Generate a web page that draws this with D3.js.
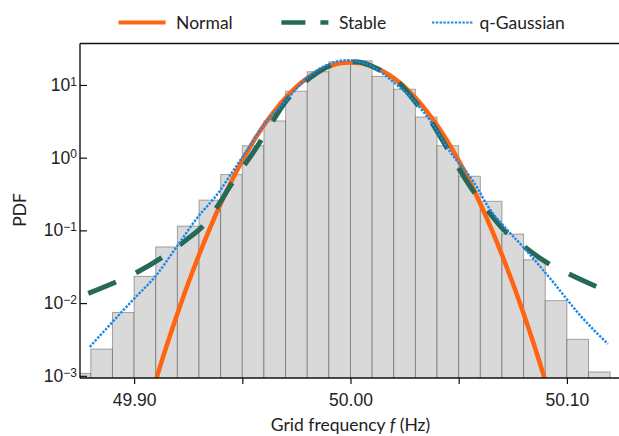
<!DOCTYPE html>
<html>
<head>
<meta charset="utf-8">
<script src="https://cdn.jsdelivr.net/npm/d3@7"></script>
<style>
  body { margin: 0; background: #fff; }
  svg { font-family: Lato, "Open Sans", sans-serif; }
</style>
</head>
<body>
<svg id="chart"></svg>
<script>
// histogram: left bin edges (Hz) and density
const binStarts = [49.87, 49.88, 49.89, 49.90, 49.91, 49.92, 49.93, 49.94, 49.95, 49.96,
                   49.97, 49.98, 49.99, 50.00, 50.01, 50.02, 50.03, 50.04, 50.05, 50.06,
                   50.07, 50.08, 50.09, 50.10, 50.11];
const binPdf = [0.00108, 0.00233, 0.00744, 0.0233, 0.0592, 0.1145, 0.261, 0.586, 1.46, 3.2,
                8.2, 15.2, 20.8, 21.5, 13.1, 8.74, 3.62, 1.46, 0.556, 0.251,
                0.089, 0.0394, 0.0108, 0.00318, 0.00113];
const binWidth = 0.01;

// fitted curves
const normalF = [49.905, 49.910, 49.915, 49.920, 49.925, 49.930, 49.935, 49.940, 49.945, 49.950,
                 49.955, 49.960, 49.965, 49.970, 49.975, 49.980, 49.985, 49.990, 49.995, 50.000,
                 50.005, 50.010, 50.015, 50.020, 50.025, 50.030, 50.035, 50.040, 50.045, 50.050,
                 50.055, 50.060, 50.065, 50.070, 50.075, 50.080, 50.085, 50.090, 50.095];
const normalPdf = [0.00027, 0.00086, 0.00257, 0.00714, 0.0187, 0.0461, 0.1067, 0.232, 0.475, 0.912,
                   1.65, 2.79, 4.45, 6.67, 9.39, 12.4, 15.4, 18.0, 19.8, 20.4,
                   19.8, 18.0, 15.4, 12.4, 9.39, 6.67, 4.45, 2.79, 1.65, 0.912,
                   0.475, 0.232, 0.1067, 0.0461, 0.0187, 0.00714, 0.00257, 0.00086, 0.00027];

const stableF = [49.8788, 49.8926, 49.9018, 49.9145, 49.9231, 49.9334, 49.9396, 49.9442, 49.9488, 49.955,
                 49.9612, 49.970, 49.9765, 49.9842, 49.995, 50.0027, 50.012, 50.0227, 50.0304, 50.0366,
                 50.0427, 50.0489, 50.0551, 50.0635, 50.0704, 50.0805, 50.0897, 50.102, 50.112, 50.121];
const stablePdf = [0.0136, 0.0201, 0.027, 0.0455, 0.070, 0.13, 0.24, 0.40, 0.64, 1.17,
                   2.3, 5.9, 9.5, 14.4, 20.1, 20.8, 16.9, 10.5, 5.6, 3.34,
                   1.69, 0.81, 0.41, 0.187, 0.105, 0.0591, 0.0377, 0.0243, 0.0177, 0.0136];

const qgaussF = [49.8795, 49.8995, 49.9103, 49.9196, 49.9288, 49.9396, 49.9442, 49.9519, 49.9612, 49.9704,
                 49.9796, 49.9889, 49.9981, 50.0089, 50.0196, 50.0289, 50.0381, 50.0458, 50.0566, 50.0643,
                 50.072, 50.0805, 50.0935, 50.1059, 50.1189];
const qgaussPdf = [0.0025, 0.0111, 0.0243, 0.0591, 0.144, 0.35, 0.561, 1.23, 3.15, 6.24,
                   12.3, 18.7, 21.9, 18.7, 11.1, 6.24, 2.85, 1.23, 0.48, 0.197,
                   0.105, 0.056, 0.0197, 0.0069, 0.00275];

const xTicks = [49.90, 49.95, 50.00, 50.05, 50.10];
const xTickLabels = ["49.90", "", "50.00", "", "50.10"];
const yTicks = [1e-3, 1e-2, 1e-1, 1e0, 1e1];
const yExponents = ["\u22123", "\u22122", "\u22121", "0", "1"];

const legendNames = ["Normal", "Stable", "q-Gaussian"];
const legendColors = ["#ff6410", "#276958", "#1a87ec"];

const width = 619, height = 436;
const margin = {top: 43.5, right: -2, bottom: 58, left: 80};

const svg = d3.select("#chart")
  .attr("width", width)
  .attr("height", height);

const x = d3.scaleLinear()
  .domain([49.875, 50.125])
  .range([margin.left, width - margin.right]);

const y = d3.scaleLog()
  .domain([Math.pow(10, -3.03), Math.pow(10, 1.57)])
  .range([height - margin.bottom, margin.top]);

svg.append("clipPath").attr("id", "plot-clip")
  .append("rect")
  .attr("x", margin.left).attr("y", margin.top)
  .attr("width", x.range()[1] - margin.left)
  .attr("height", y.range()[0] - margin.top);

const plot = svg.append("g").attr("clip-path", "url(#plot-clip)");

// histogram bars
plot.selectAll("rect.bar")
  .data(binStarts)
  .enter().append("rect")
  .attr("class", "bar")
  .attr("x", d => x(d))
  .attr("width", d => x(d + binWidth) - x(d))
  .attr("y", (d, i) => y(binPdf[i]))
  .attr("height", (d, i) => y.range()[0] + 2 - y(binPdf[i]))
  .style("fill", "#d9d9d9")
  .style("stroke", "#000")
  .style("stroke-opacity", 0.32)
  .style("stroke-width", 1);

const line = d3.line()
  .x(d => x(d[0]))
  .y(d => y(d[1]))
  .curve(d3.curveMonotoneX);

plot.append("path")
  .datum(normalF.map((f, i) => [f, normalPdf[i]]))
  .attr("d", line)
  .style("fill", "none")
  .style("stroke", legendColors[0])
  .style("stroke-width", 4.5);

plot.append("path")
  .datum(stableF.map((f, i) => [f, stablePdf[i]]))
  .attr("d", line)
  .style("fill", "none")
  .style("stroke", legendColors[1])
  .style("stroke-width", 5)
  .style("stroke-dasharray", "30,22");

plot.append("path")
  .datum(qgaussF.map((f, i) => [f, qgaussPdf[i]]))
  .attr("d", line)
  .style("fill", "none")
  .style("stroke", legendColors[2])
  .style("stroke-width", 2.4)
  .style("stroke-dasharray", "2.4,1.4");

// frame
svg.append("line")
  .attr("x1", margin.left).attr("x2", width)
  .attr("y1", margin.top).attr("y2", margin.top)
  .style("stroke", "#111").style("stroke-width", 1.4);

// axes
const xAxis = svg.append("g")
  .attr("transform", `translate(0,${y.range()[0]})`)
  .call(d3.axisBottom(x).tickValues(xTicks).tickSize(6).tickPadding(10)
    .tickFormat((d, i) => xTickLabels[i]));

const yAxis = svg.append("g")
  .attr("transform", `translate(${margin.left},0)`)
  .call(d3.axisLeft(y).tickValues(yTicks).tickSize(-7).tickPadding(3).tickFormat(""));

[xAxis, yAxis].forEach(g => {
  g.select(".domain").style("stroke", "#111").style("stroke-width", 1.4);
  g.selectAll(".tick line").style("stroke", "#111").style("stroke-width", 1.2);
  g.selectAll("text").style("fill", "#222").style("font-size", "17.5px");
});
xAxis.select(".domain").attr("d", `M${margin.left},0H${width}`);
yAxis.select(".domain").attr("d", `M0,${y.range()[0]}V${margin.top}`);

yAxis.selectAll(".tick text")
  .attr("x", -3)
  .attr("dy", "0.32em")
  .each(function(d, i) {
    const t = d3.select(this);
    t.append("tspan").text("10");
    t.append("tspan").text(yExponents[i])
      .attr("dy", "-0.45em")
      .style("font-size", "12px");
  });

// axis titles
svg.append("text")
  .attr("x", x(50.0))
  .attr("y", 430.5)
  .attr("text-anchor", "middle")
  .style("font-size", "17.5px")
  .style("fill", "#222")
  .html('Grid frequency <tspan font-style="italic">f</tspan> (Hz)');

svg.append("text")
  .attr("transform", "translate(26,210) rotate(-90)")
  .attr("text-anchor", "middle")
  .style("font-size", "17.5px")
  .style("fill", "#222")
  .text("PDF");

// legend
const legendX = [118.6, 281.4, 432];
const legend = svg.append("g");
legendNames.forEach((name, i) => {
  const g = legend.append("g").attr("transform", `translate(${legendX[i]},22.5)`);
  const l = g.append("line")
    .attr("x1", 0).attr("x2", i === 2 ? 41 : 47)
    .attr("y1", 0).attr("y2", 0)
    .style("stroke", legendColors[i]);
  if (i === 0) l.style("stroke-width", 4);
  if (i === 1) l.style("stroke-width", 4.5).style("stroke-dasharray", "24,15");
  if (i === 2) l.style("stroke-width", 2.2).style("stroke-dasharray", "2.4,1.4");
  g.append("text")
    .attr("x", i === 2 ? 47.5 : 57.5)
    .attr("dy", "0.35em")
    .style("font-size", "17.5px")
    .style("fill", "#222")
    .text(name);
});
</script>
</body>
</html>
